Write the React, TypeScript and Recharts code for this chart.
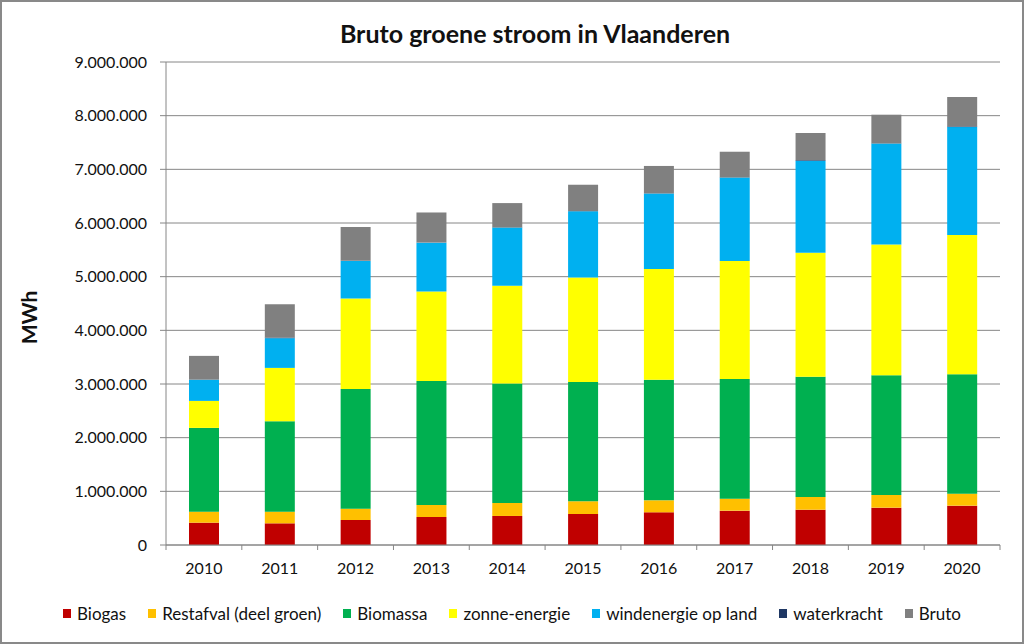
import React from 'react';
import { BarChart, Bar, XAxis, YAxis, CartesianGrid, Legend } from 'recharts';

const years = ['2010', '2011', '2012', '2013', '2014', '2015', '2016', '2017', '2018', '2019', '2020'];
const biogas = [416000, 404000, 466000, 522000, 541000, 578000, 609000, 640000, 658000, 696000, 733000];
const restafval = [205000, 217000, 211000, 224000, 242000, 237000, 224000, 223000, 237000, 236000, 224000];
const biomassa = [1561000, 1686000, 2232000, 2312000, 2225000, 2224000, 2244000, 2232000, 2238000, 2232000, 2226000];
const zonne = [503000, 993000, 1684000, 1665000, 1821000, 1945000, 2064000, 2195000, 2312000, 2436000, 2592000];
const wind = [394000, 554000, 700000, 911000, 1085000, 1235000, 1408000, 1556000, 1715000, 1880000, 2013000];
const water = [3000, 12000, 3000, 3000, 3000, 3000, 3000, 3000, 12000, 3000, 12000];
const bruto = [442000, 622000, 628000, 559000, 454000, 491000, 511000, 479000, 505000, 535000, 548000];
const yTicks = [0, 1000000, 2000000, 3000000, 4000000, 5000000, 6000000, 7000000, 8000000, 9000000];

const series = [
  { key: 'biogas', name: 'Biogas', color: '#C00000', values: biogas },
  { key: 'restafval', name: 'Restafval (deel groen)', color: '#FFC000', values: restafval },
  { key: 'biomassa', name: 'Biomassa', color: '#00B050', values: biomassa },
  { key: 'zonne', name: 'zonne-energie', color: '#FFFF00', values: zonne },
  { key: 'wind', name: 'windenergie op land', color: '#00B0F0', values: wind },
  { key: 'water', name: 'waterkracht', color: '#1F3864', values: water },
  { key: 'bruto', name: 'Bruto', color: '#808080', values: bruto },
];

const data = years.map((y, i) => {
  const row: Record<string, any> = { year: y };
  series.forEach((s) => {
    row[s.key] = s.values[i];
  });
  return row;
});

const W = 1024;
const H = 644;
const MARGIN = { top: 62, right: 24, left: 0, bottom: 19 };
const Y_AXIS_W = 166;
const BAND = (W - MARGIN.left - MARGIN.right - Y_AXIS_W) / years.length;
const FONT = 'Lato, "DejaVu Sans", sans-serif';
const GRID = '#868686';
const X_TICK_SIZE = 5;
const X_TICK_MARGIN = 13;

const fmt = (v: number) => String(Math.round(v)).replace(/\B(?=(\d{3})+(?!\d))/g, '.');

const XTick = (props: any) => {
  const { x, y, payload, index } = props;
  const axisY = y - X_TICK_SIZE - X_TICK_MARGIN;
  const last = index === years.length - 1;
  return (
    <g>
      <line x1={x - BAND / 2} x2={x - BAND / 2} y1={axisY} y2={axisY + X_TICK_SIZE} stroke={GRID} />
      {last && <line x1={x + BAND / 2} x2={x + BAND / 2} y1={axisY} y2={axisY + X_TICK_SIZE} stroke={GRID} />}
      <text x={x} y={y} dy="0.71em" textAnchor="middle" fontSize={16} fill="#111" fontFamily={FONT}>
        {payload.value}
      </text>
    </g>
  );
};

const YLabel = (props: any) => {
  const vb = props.viewBox || { x: 0, y: 0, width: 0, height: 0 };
  const cx = 37;
  const cy = vb.y + vb.height / 2 + 14;
  return (
    <text
      x={cx}
      y={cy}
      transform={`rotate(-90 ${cx} ${cy})`}
      textAnchor="middle"
      fontSize={21}
      fontWeight={700}
      fill="#111"
      fontFamily={FONT}
    >
      MWh
    </text>
  );
};

const LegendContent = () => (
  <div
    style={{
      display: 'flex',
      justifyContent: 'center',
      alignItems: 'center',
      gap: 22,
      height: 24,
      fontFamily: FONT,
      fontSize: 17,
      color: '#111',
      whiteSpace: 'nowrap',
    }}
  >
    {series.map((s) => (
      <div key={s.key} style={{ display: 'flex', alignItems: 'center' }}>
        <span style={{ display: 'inline-block', width: 8, height: 9, background: s.color, marginRight: 6 }} />
        <span>{s.name}</span>
      </div>
    ))}
  </div>
);

export default function App() {
  return (
    <div
      style={{
        position: 'absolute',
        left: 0,
        top: 0,
        width: W,
        height: H,
        background: '#fff',
        boxSizing: 'border-box',
        border: '2px solid #898989',
        overflow: 'hidden',
      }}
    >
      <div
        style={{
          position: 'absolute',
          left: 0,
          top: 16,
          width: W - 4,
          textAlign: 'center',
          paddingLeft: 46,
          boxSizing: 'border-box',
          fontFamily: FONT,
          fontWeight: 700,
          fontSize: 25,
          color: '#111',
          lineHeight: '30px',
        }}
      >
        Bruto groene stroom in Vlaanderen
      </div>
      <div style={{ position: 'absolute', left: -2, top: -2 }}>
        <BarChart width={W} height={H} data={data} margin={MARGIN} barSize={30}>
          <CartesianGrid vertical={false} stroke={GRID} strokeWidth={1} />
          <XAxis
            dataKey="year"
            axisLine={{ stroke: GRID }}
            tickLine={false}
            tickSize={X_TICK_SIZE}
            tickMargin={X_TICK_MARGIN}
            height={56}
            tick={<XTick />}
            interval={0}
          />
          <YAxis
            width={Y_AXIS_W}
            domain={[0, 9000000]}
            ticks={yTicks}
            tickFormatter={fmt}
            axisLine={{ stroke: GRID }}
            tickLine={{ stroke: GRID }}
            tickSize={6}
            tickMargin={13}
            tick={{ fontSize: 16, fill: '#111', fontFamily: FONT }}
            interval={0}
            label={<YLabel />}
          />
          <Legend
            verticalAlign="bottom"
            align="center"
            height={24}
            wrapperStyle={{ left: 0, width: W }}
            content={<LegendContent />}
          />
          {series.map((s) => (
            <Bar key={s.key} dataKey={s.key} name={s.name} stackId="a" fill={s.color} isAnimationActive={false} />
          ))}
        </BarChart>
      </div>
    </div>
  );
}
